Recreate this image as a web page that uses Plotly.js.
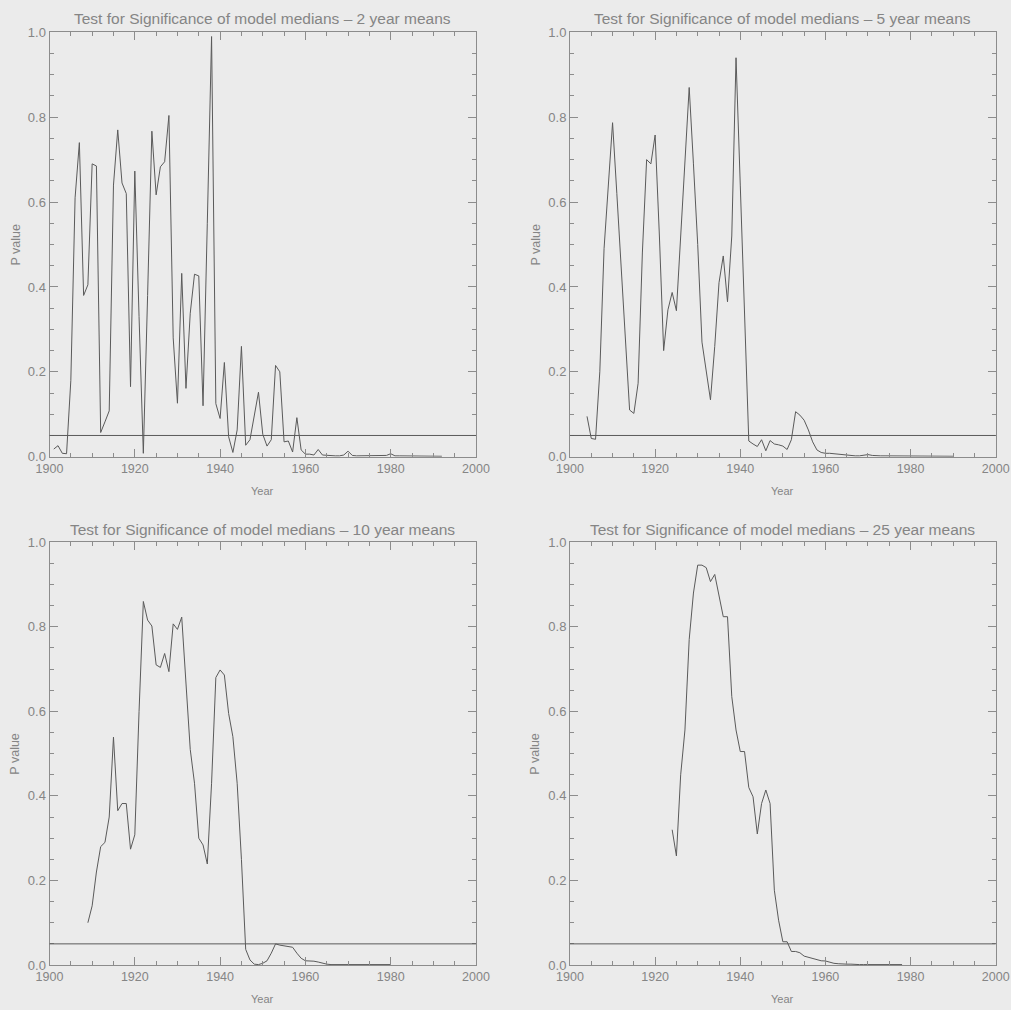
<!DOCTYPE html>
<html>
<head>
<meta charset="utf-8">
<script src="https://cdn.plot.ly/plotly-3.0.1.min.js"></script>
<style>
html, body { margin: 0; padding: 0; background: #ebebeb; }
#chart { width: 1011px; height: 1010px; }
</style>
</head>
<body>
<div id="chart"></div>
<script>
// ---- data ----
const panelTitles = [
  "Test for Significance of model medians – 2 year means",
  "Test for Significance of model medians – 5 year means",
  "Test for Significance of model medians – 10 year means",
  "Test for Significance of model medians – 25 year means"
];
const xAxisTitle = "Year";
const yAxisTitle = "P value";
const threshold = 0.05;

const startYear2 = 1901;
const pValue2 = [
  0.018, 0.026, 0.008, 0.007, 0.18, 0.61, 0.74, 0.38, 0.405, 0.69,
  0.685, 0.057, 0.082, 0.108, 0.64, 0.77, 0.645, 0.62, 0.165, 0.673,
  0.33, 0.008, 0.38, 0.767, 0.617, 0.683, 0.695, 0.804, 0.28, 0.126,
  0.432, 0.161, 0.338, 0.43, 0.426, 0.12, 0.55, 0.99, 0.125, 0.09,
  0.222, 0.047, 0.01, 0.063, 0.26, 0.027, 0.04, 0.094, 0.152, 0.053,
  0.025, 0.04, 0.215, 0.2, 0.035, 0.037, 0.011, 0.092, 0.016, 0.006,
  0.006, 0.004, 0.017, 0.004, 0.003, 0.002, 0.002, 0.002, 0.004, 0.013,
  0.003, 0.002, 0.002, 0.002, 0.002, 0.002, 0.002, 0.002, 0.003, 0.007,
  0.002, 0.002, 0.002, 0.001, 0.001, 0.001, 0.001, 0.001, 0.001, 0.001,
  0.001, 0.001
];

const startYear5 = 1904;
const pValue5 = [
  0.095, 0.043, 0.041, 0.2, 0.49, 0.64, 0.787, 0.62, 0.45, 0.26,
  0.11, 0.102, 0.173, 0.48, 0.70, 0.69, 0.758, 0.52, 0.25, 0.346,
  0.387, 0.344, 0.51, 0.68, 0.87, 0.69, 0.5, 0.27, 0.2, 0.134,
  0.26, 0.41, 0.473, 0.365, 0.52, 0.94, 0.64, 0.35, 0.037, 0.03,
  0.024, 0.04, 0.014, 0.038, 0.03, 0.028, 0.025, 0.017, 0.04, 0.106,
  0.098, 0.086, 0.063, 0.035, 0.016, 0.01, 0.008, 0.008, 0.007, 0.006,
  0.005, 0.003, 0.002, 0.002, 0.002, 0.003, 0.005, 0.003, 0.002, 0.002,
  0.002, 0.002, 0.001, 0.001, 0.001, 0.001, 0.001, 0.001, 0.001, 0.001,
  0.001, 0.001, 0.001, 0.001, 0.001, 0.001, 0.001
];

const startYear10 = 1909;
const pValue10 = [
  0.10, 0.14, 0.22, 0.28, 0.29, 0.35, 0.539, 0.365, 0.382, 0.382,
  0.274, 0.308, 0.6, 0.86, 0.816, 0.802, 0.71, 0.704, 0.737, 0.694,
  0.807, 0.794, 0.823, 0.66, 0.51, 0.43, 0.30, 0.284, 0.239, 0.43,
  0.68, 0.698, 0.686, 0.595, 0.54, 0.43, 0.25, 0.037, 0.012, 0.002,
  0.001, 0.004, 0.01, 0.028, 0.05, 0.047, 0.045, 0.043, 0.042, 0.028,
  0.016, 0.01, 0.01, 0.009, 0.007, 0.004, 0.002, 0.001, 0.001, 0.001,
  0.001, 0.001, 0.001, 0.001, 0.001, 0.001, 0.001, 0.001, 0.001, 0.001,
  0.001, 0.001
];

const startYear25 = 1924;
const pValue25 = [
  0.32, 0.258, 0.45, 0.556, 0.77, 0.88, 0.946, 0.946, 0.94, 0.907,
  0.924, 0.871, 0.824, 0.824, 0.635, 0.556, 0.505, 0.505, 0.42, 0.398,
  0.31, 0.382, 0.414, 0.382, 0.177, 0.106, 0.055, 0.055, 0.032, 0.032,
  0.029, 0.021, 0.018, 0.016, 0.012, 0.01, 0.0095, 0.006, 0.004, 0.003,
  0.002, 0.002, 0.002, 0.001, 0.001, 0.001, 0.001, 0.001, 0.001, 0.001,
  0.001, 0.001, 0.001, 0.001, 0.001
];

const xRange = [1900, 2000];
const yRange = [0, 1];

// ---- build ----
function yearsFor(start, arr) { return arr.map((_, i) => start + i); }

const series = [
  {start: startYear2, vals: pValue2},
  {start: startYear5, vals: pValue5},
  {start: startYear10, vals: pValue10},
  {start: startYear25, vals: pValue25}
];

const W = 1011, H = 1010;
const colDomains = [[49.5 / W, 476 / W], [570 / W, 995.7 / W]];
const rowDomains = [[1 - 456.7 / H, 1 - 32.3 / H], [1 - 965 / H, 1 - 542.3 / H]];

const FONT = "Liberation Sans, Arial, sans-serif";
const TXT = "#858585";
const AXC = "#8c8c8c";
const LINEC = "#5a5a5a";

const traces = [];
const layout = {
  width: W, height: H,
  margin: {l: 0, r: 0, t: 0, b: 0},
  paper_bgcolor: "#ebebeb",
  plot_bgcolor: "#ebebeb",
  showlegend: false,
  font: {family: FONT, color: TXT},
  annotations: [],
  shapes: []
};

series.forEach((s, k) => {
  const col = k % 2, row = Math.floor(k / 2);
  const xn = k === 0 ? "x" : "x" + (k + 1);
  const yn = k === 0 ? "y" : "y" + (k + 1);
  traces.push({
    type: "scatter", mode: "lines",
    x: yearsFor(s.start, s.vals), y: s.vals,
    xaxis: xn, yaxis: yn,
    line: {color: LINEC, width: 1},
    hoverinfo: "skip"
  });
  const common = {
    showline: true, linecolor: AXC, linewidth: 1, mirror: "ticks",
    ticks: "inside", ticklen: 8, tickwidth: 1, tickcolor: AXC,
    showgrid: false, zeroline: false, fixedrange: true
  };
  layout["xaxis" + (k === 0 ? "" : k + 1)] = Object.assign({}, common, {
    domain: colDomains[col], anchor: yn, range: xRange,
    tickmode: "linear", tick0: 1900, dtick: 20,
    tickfont: {family: FONT, size: 12.5, color: TXT},
    minor: {ticks: "inside", tickmode: "linear", tick0: 1900, dtick: 5, ticklen: 4, tickcolor: AXC, showgrid: false}
  });
  layout["yaxis" + (k === 0 ? "" : k + 1)] = Object.assign({}, common, {
    domain: rowDomains[row], anchor: xn, range: yRange,
    tickmode: "linear", tick0: 0, dtick: 0.2, tickformat: ".1f",
    tickfont: {family: FONT, size: 13, color: TXT},
    minor: {ticks: "inside", tickmode: "linear", tick0: 0, dtick: 0.05, ticklen: 4, tickcolor: AXC, showgrid: false}
  });
  layout.shapes.push({
    type: "line", xref: xn + " domain", yref: yn,
    x0: 0, x1: 1, y0: threshold, y1: threshold,
    line: {color: LINEC, width: 1}
  });
  const cx = (colDomains[col][0] + colDomains[col][1]) / 2;
  const titleY = row === 0 ? 1 - 18 / H : 1 - 529 / H;
  layout.annotations.push({
    text: panelTitles[k], xref: "paper", yref: "paper",
    x: cx, y: titleY, xanchor: "center", yanchor: "middle",
    showarrow: false, font: {family: FONT, size: 15.5, color: TXT}
  });
  const yearY = row === 0 ? 1 - 491 / H : 1 - 999 / H;
  layout.annotations.push({
    text: xAxisTitle, xref: "paper", yref: "paper",
    x: cx, y: yearY, xanchor: "center", yanchor: "middle",
    showarrow: false, font: {family: FONT, size: 11, color: TXT}
  });
  const cy = (rowDomains[row][0] + rowDomains[row][1]) / 2;
  const pX = col === 0 ? 15 / W : 535 / W;
  layout.annotations.push({
    text: yAxisTitle, xref: "paper", yref: "paper",
    x: pX, y: cy, xanchor: "center", yanchor: "middle", textangle: -90,
    showarrow: false, font: {family: FONT, size: 12.5, color: TXT}
  });
});

Plotly.newPlot("chart", traces, layout, {staticPlot: true, displayModeBar: false});
</script>
</body>
</html>
